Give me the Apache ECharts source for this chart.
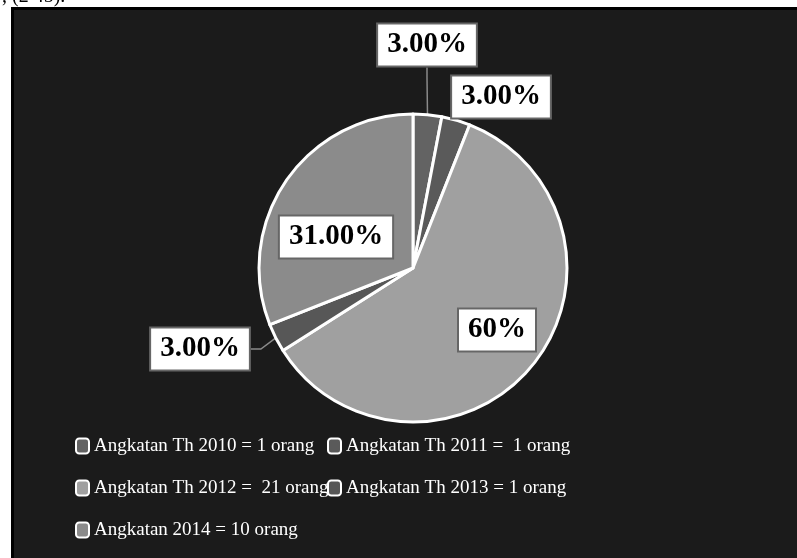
<!DOCTYPE html>
<html>
<head>
<meta charset="utf-8">
<script src="https://cdn.jsdelivr.net/npm/echarts@6/dist/echarts.min.js"></script>
<style>
html,body{margin:0;padding:0;background:#fff;}
#c{width:797px;height:558px;}
</style>
</head>
<body>
<div id="c"></div>
<script>
const categories = [
  'Angkatan Th 2010 = 1 orang',
  'Angkatan Th 2011 =  1 orang',
  'Angkatan Th 2012 =  21 orang',
  'Angkatan Th 2013 = 1 orang',
  'Angkatan 2014 = 10 orang'
];
const values = [3, 3, 60, 3, 31];
const labelTexts = ['3.00%', '3.00%', '60%', '3.00%', '31.00%'];
const colors = ['#636363', '#5a5a5a', '#a0a0a0', '#575757', '#8b8b8b'];
const showLine = [true, false, false, true, false];
const labelPos = [[427, 45], [501, 97], [497, 330], [200, 349], [336, 237]];
const legendCol1 = [categories[0], categories[2], categories[4]];
const legendCol2 = [categories[1], categories[3]];

const chart = echarts.init(document.getElementById('c'));
const data = categories.map((name, i) => ({
  name: name,
  value: values[i],
  itemStyle: { color: colors[i] },
  label: { formatter: labelTexts[i] },
  labelLine: { show: showLine[i] }
}));

const legendBase = {
  orient: 'vertical',
  padding: 0,
  itemGap: 22,
  itemWidth: 13,
  itemHeight: 15,
  icon: 'roundRect',
  itemStyle: { borderColor: '#ffffff', borderWidth: 2 },
  selectedMode: false,
  textStyle: {
    color: '#ffffff',
    fontFamily: 'Liberation Serif',
    fontSize: 19,
    lineHeight: 20
  }
};

chart.setOption({
  backgroundColor: '#ffffff',
  animation: false,
  graphic: [
    { type: 'rect', left: 11, top: 7, shape: { width: 800, height: 560 }, style: { fill: '#000' }, silent: true, z: -10 },
    { type: 'rect', left: 14, top: 10, shape: { width: 800, height: 560 }, style: { fill: '#1b1b1b' }, silent: true, z: -9 },
    { type: 'text', left: 2, top: -13, style: { text: ', (2 45).', fill: '#000', font: '20px "Liberation Serif"' }, silent: true }
  ],
  legend: [
    Object.assign({}, legendBase, { left: 75, top: 436, data: legendCol1 }),
    Object.assign({}, legendBase, { left: 327, top: 436, data: legendCol2 })
  ],
  series: [{
    type: 'pie',
    center: [413, 268],
    radius: [0, 154],
    startAngle: 90,
    clockwise: true,
    data: data,
    itemStyle: { borderColor: '#ffffff', borderWidth: 3 },
    emphasis: { disabled: true },
    label: {
      show: true,
      position: 'outside',
      color: '#000',
      fontFamily: 'Liberation Serif',
      fontWeight: 'bold',
      fontSize: 29,
      backgroundColor: '#ffffff',
      borderColor: '#666666',
      borderWidth: 2,
      padding: [7, 9, 5, 9]
    },
    labelLine: {
      lineStyle: { color: '#8a8a8a', width: 1.5 },
      length: 15,
      length2: 10
    },
    labelLayout: function (p) {
      const pos = labelPos[p.dataIndex];
      return { x: pos[0], y: pos[1], align: 'center', verticalAlign: 'middle' };
    }
  }]
});
</script>
</body>
</html>
